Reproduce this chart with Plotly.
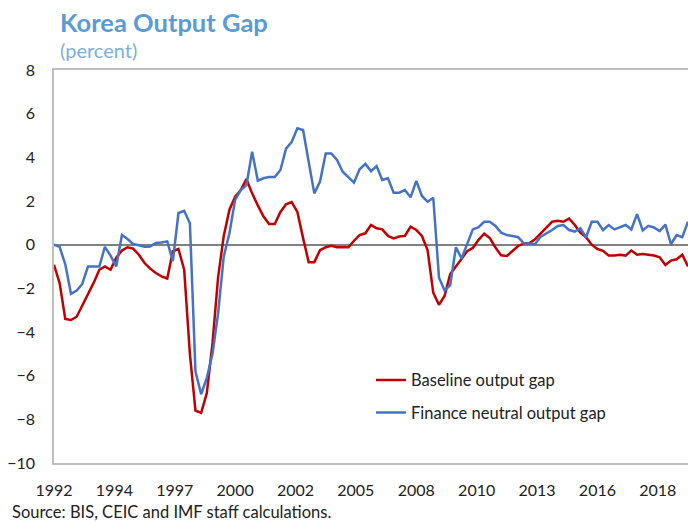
import pandas as pd
import plotly.graph_objects as go

# Quarterly observations, 1992Q1 .. 2020Q1
quarters = pd.date_range("1992-01-01", periods=113, freq="QS").strftime("%Y-%m-%d").tolist()

baseline_gap = [
    -0.92, -1.76, -3.40, -3.45, -3.30, -2.80, -2.30, -1.75, -1.15, -1.00,
    -1.15, -0.60, -0.27, -0.12, -0.18, -0.46, -0.84, -1.10, -1.30, -1.45,
    -1.55, -0.30, -0.20, -1.15, -5.00, -7.60, -7.70, -6.80, -4.50, -1.50,
    0.40, 1.60, 2.20, 2.50, 3.00, 2.35, 1.80, 1.30, 0.95, 0.95,
    1.50, 1.85, 1.95, 1.50, 0.30, -0.80, -0.80, -0.25, -0.12, -0.05,
    -0.12, -0.12, -0.12, 0.18, 0.44, 0.52, 0.90, 0.75, 0.70, 0.40,
    0.29, 0.37, 0.40, 0.82, 0.67, 0.40, -0.25, -2.20, -2.75, -2.35,
    -1.35, -1.00, -0.65, -0.30, -0.15, 0.22, 0.50, 0.30, -0.13, -0.49,
    -0.52, -0.27, -0.06, 0.06, 0.08, 0.25, 0.52, 0.75, 1.05, 1.10,
    1.05, 1.20, 0.90, 0.55, 0.34, 0.00, -0.20, -0.28, -0.50, -0.50,
    -0.46, -0.50, -0.27, -0.46, -0.43, -0.46, -0.50, -0.58, -0.93, -0.73,
    -0.67, -0.46, -1.00,
]

finance_neutral_gap = [
    0.00, -0.10, -0.90, -2.25, -2.10, -1.80, -1.00, -1.00, -1.00, -0.10,
    -0.50, -1.00, 0.45, 0.26, 0.03, -0.03, -0.10, -0.08, 0.08, 0.10,
    0.15, -0.75, 1.45, 1.55, 0.98, -5.80, -6.85, -6.10, -5.00, -3.15,
    -0.55, 0.52, 2.05, 2.50, 2.73, 4.26, 2.93, 3.04, 3.10, 3.10,
    3.42, 4.40, 4.70, 5.33, 5.25, 3.80, 2.35, 2.89, 4.18, 4.18,
    3.88, 3.34, 3.10, 2.84, 3.45, 3.70, 3.37, 3.60, 2.96, 3.04,
    2.38, 2.38, 2.50, 2.17, 2.92, 2.23, 1.97, 2.15, -1.50, -2.10,
    -1.85, -0.12, -0.63, 0.00, 0.70, 0.80, 1.05, 1.05, 0.86, 0.55,
    0.44, 0.40, 0.34, 0.06, 0.03, 0.03, 0.37, 0.52, 0.67, 0.86,
    0.90, 0.67, 0.60, 0.75, 0.33, 1.05, 1.05, 0.67, 0.90, 0.70,
    0.79, 0.90, 0.70, 1.40, 0.65, 0.86, 0.79, 0.62, 0.92, 0.02,
    0.44, 0.34, 1.05,
]

tick_dates = ["1992-01-01", "1994-09-01", "1997-05-01", "2000-01-01", "2002-09-01",
              "2005-05-01", "2008-01-01", "2010-09-01", "2013-05-01", "2016-01-01",
              "2018-09-01"]
tick_labels = ["1992", "1994", "1997", "2000", "2002", "2005", "2008", "2010",
               "2013", "2016", "2018"]
y_ticks = [-10, -8, -6, -4, -2, 0, 2, 4, 6, 8]

FONT = "Lato, 'Open Sans', sans-serif"

fig = go.Figure()
fig.add_trace(go.Scatter(
    x=quarters, y=baseline_gap, mode="lines", name="Baseline output gap",
    line=dict(color="#C00000", width=2.5), legendgroup="a"))
fig.add_trace(go.Scatter(
    x=quarters, y=finance_neutral_gap, mode="lines", name="Finance neutral output gap",
    line=dict(color="#4472C4", width=2.5), legendgroup="b"))

fig.update_layout(
    width=688, height=523,
    margin=dict(l=54, r=0, t=70, b=60),
    paper_bgcolor="white", plot_bgcolor="white",
    font=dict(family=FONT, size=15, color="#222222"),
    showlegend=True,
    legend=dict(x=0.5, y=0.255, xanchor="left", yanchor="top",
                bgcolor="rgba(0,0,0,0)", font=dict(size=16.5, color="#222222"),
                traceorder="grouped", tracegroupgap=8, itemwidth=30),
    xaxis=dict(type="date", range=["1992-01-01", "2020-01-01"],
               tickvals=tick_dates, ticktext=tick_labels, ticks="",
               showgrid=False, showline=True, linecolor="#BFBFBF", linewidth=1.5,
               mirror=True, ticklabelstandoff=12, tickfont=dict(size=16)),
    yaxis=dict(range=[-10, 8], tickvals=y_ticks, ticks="", showgrid=False,
               showline=True, linecolor="#BFBFBF", linewidth=1.5,
               zeroline=True, zerolinecolor="#808080", zerolinewidth=1.5,
               ticklabelstandoff=14, tickfont=dict(size=16)),
    annotations=[
        dict(text="<b>Korea Output Gap</b>", xref="paper", yref="paper",
             x=0.006, y=1.122, xanchor="left", yanchor="middle", showarrow=False,
             font=dict(family=FONT, size=25.5, color="#5B9BD5")),
        dict(text="(percent)", xref="paper", yref="paper",
             x=0.006, y=1.051, xanchor="left", yanchor="middle", showarrow=False,
             font=dict(family=FONT, size=20, color="#7BAFE0")),
        dict(text="Source: BIS, CEIC and IMF staff calculations.", xref="paper", yref="paper",
             x=-0.07, y=-0.125, xanchor="left", yanchor="middle", showarrow=False,
             font=dict(family=FONT, size=16.5, color="#222222")),
    ],
)

fig.write_html("out.html", config={"displayModeBar": False},
               post_script="document.body.style.margin='0';")
